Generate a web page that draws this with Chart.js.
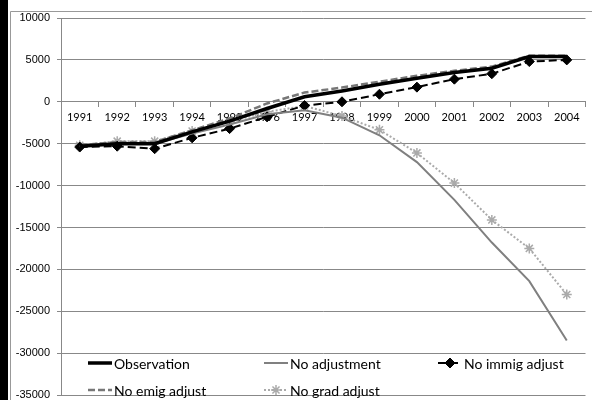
<!DOCTYPE html>
<html>
<head>
<meta charset="utf-8">
<script src="https://cdn.jsdelivr.net/npm/chart.js@4/dist/chart.umd.min.js"></script>
<style>
  html, body { margin: 0; background: #fff; overflow: hidden; }
  #wrap { width: 592px; height: 400px; position: relative; overflow: hidden; }
</style>
</head>
<body>
<div id="wrap"><canvas id="myChart" width="592" height="407"></canvas></div>
<script>
// datos
var years = ["1991", "1992", "1993", "1994", "1995", "1996", "1997", "1998", "1999", "2000", "2001", "2002", "2003", "2004"];
var observation = [-5300, -5000, -5000, -3600, -2300, -800, 600, 1300, 2100, 2800, 3500, 4000, 5400, 5400];
var noAdjustment = [-5300, -5000, -5000, -3800, -2700, -1500, -1000, -1900, -4000, -7200, -11700, -16800, -21400, -28500];
var noImmig = [-5400, -5300, -5600, -4300, -3200, -1800, -450, 0, 900, 1750, 2700, 3350, 4800, 5000];
var noEmig = [-5200, -4800, -4800, -3400, -2000, -200, 1100, 1700, 2400, 3100, 3700, 4200, 5500, 5500];
var noGrad = [-5200, -4700, -4700, -3500, -2400, -1200, -500, -1700, -3350, -6100, -9700, -14100, -17500, -23000];
var yTicks = [10000, 5000, 0, -5000, -10000, -15000, -20000, -25000, -30000, -35000];

// marco de la imagen (franja negra y borde gris)
var frame = {
  id: "frame",
  beforeDraw: function (chart) {
    var c = chart.ctx;
    c.save();
    c.fillStyle = "#fff";
    c.fillRect(0, 0, chart.width, chart.height);
    c.fillStyle = "#000";
    c.fillRect(0, 0, 8, chart.height);
    c.strokeStyle = "#999";
    c.lineWidth = 1;
    c.beginPath();
    c.moveTo(10.5, chart.height);
    c.lineTo(10.5, 11.5);
    c.lineTo(chart.width, 11.5);
    c.stroke();
    c.restore();
  },
};

// leyenda dentro del area del grafico
var legendSlots = [[88, 363], [264, 363], [438, 363], [88, 390], [264, 390]];
var insideLegend = {
  id: "insideLegend",
  afterDraw: function (chart) {
    var c = chart.ctx;
    chart.data.datasets.forEach(function (ds, i) {
      var x = legendSlots[i][0], y = legendSlots[i][1];
      c.save();
      c.strokeStyle = ds.borderColor;
      c.lineWidth = ds.borderWidth;
      c.setLineDash(ds.borderDash || []);
      c.beginPath();
      c.moveTo(x, y);
      c.lineTo(x + 24, y);
      c.stroke();
      c.setLineDash([]);
      if (ds.pointRadius > 0) {
        c.fillStyle = ds.pointBackgroundColor;
        c.strokeStyle = ds.pointBorderColor;
        c.lineWidth = ds.pointBorderWidth;
        Chart.helpers.drawPoint(c, {
          pointStyle: ds.pointStyle,
          radius: ds.pointRadius,
          borderWidth: ds.pointBorderWidth,
          rotation: 0,
        }, x + 12, y);
      }
      c.fillStyle = "#000";
      c.font = "14px Lato";
      c.textBaseline = "middle";
      c.fillText(ds.label, x + 26, y + 1);
      c.restore();
    });
  },
};

var ctx = document.getElementById("myChart");
var myChart = new Chart(ctx, {
  type: "line",
  data: {
    labels: years,
    datasets: [
      {
        label: "Observation",
        data: observation,
        borderColor: "#000",
        borderWidth: 3.5,
        pointRadius: 0,
      },
      {
        label: "No adjustment",
        data: noAdjustment,
        borderColor: "#808080",
        borderWidth: 2,
        pointRadius: 0,
      },
      {
        label: "No immig adjust",
        data: noImmig,
        borderColor: "#000",
        borderWidth: 2,
        borderDash: [8, 4],
        pointStyle: "rectRot",
        pointRadius: 5,
        pointBackgroundColor: "#000",
        pointBorderColor: "#000",
        pointBorderWidth: 1,
      },
      {
        label: "No emig adjust",
        data: noEmig,
        borderColor: "#777",
        borderWidth: 2.5,
        borderDash: [7, 3],
        pointRadius: 0,
      },
      {
        label: "No grad adjust",
        data: noGrad,
        borderColor: "#aaa",
        borderWidth: 2,
        borderDash: [2, 2],
        pointStyle: "star",
        pointRadius: 5,
        pointBackgroundColor: "#aaa",
        pointBorderColor: "#aaa",
        pointBorderWidth: 1.5,
      },
    ],
  },
  options: {
    responsive: false,
    animation: false,
    events: [],
    layout: { padding: { left: 11, top: 18, right: 0, bottom: 5 } },
    plugins: {
      legend: { display: false },
      tooltip: { enabled: false },
    },
    elements: { line: { tension: 0 } },
    scales: {
      x: {
        position: { y: 0 },
        offset: true,
        afterFit: function (scale) {
          scale.height = 0;
        },
        grid: { drawOnChartArea: false, tickLength: 5, color: "#888", offset: true },
        border: { color: "#888" },
        ticks: {
          autoSkip: false,
          maxRotation: 0,
          padding: 4,
          color: "#000",
          font: { family: "Lato", size: 11 },
        },
      },
      y: {
        min: -35000,
        max: 10000,
        afterBuildTicks: function (scale) {
          scale.ticks = yTicks.map(function (v) { return { value: v }; });
        },
        afterFit: function (scale) {
          scale.width = 50;
        },
        grid: { color: "#888", tickLength: 4 },
        border: { color: "#888" },
        ticks: {
          padding: 7,
          color: "#000",
          font: { family: "Liberation Sans", size: 11, lineHeight: 0.9 },
          callback: function (v) { return String(v); },
        },
      },
    },
  },
  plugins: [frame, insideLegend],
});
</script>
</body>
</html>
